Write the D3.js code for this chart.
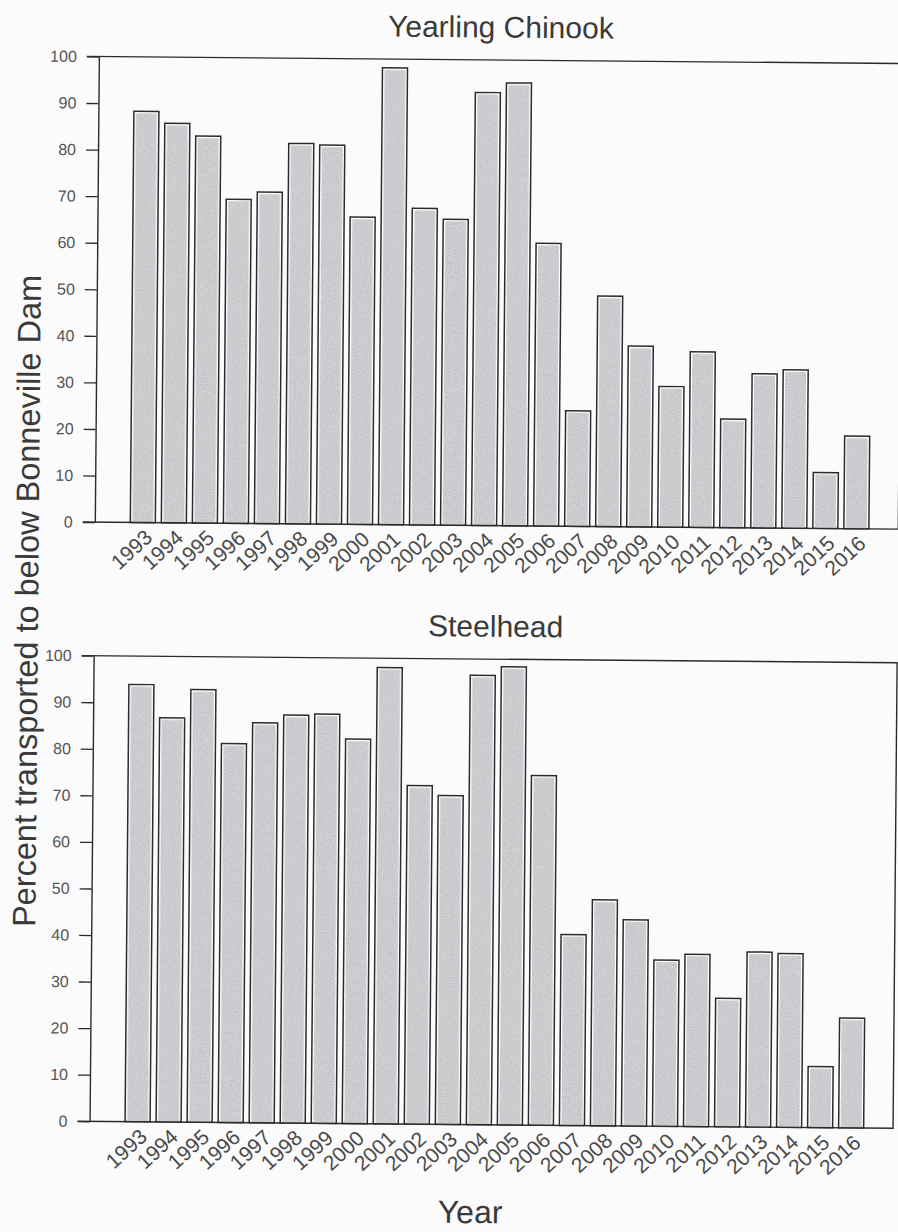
<!DOCTYPE html>
<html>
<head>
<meta charset="utf-8">
<script src="https://cdn.jsdelivr.net/npm/d3@7"></script>
<style>
  html, body { margin: 0; padding: 0; background: #fbfbfb; }
  svg { display: block; font-family: 'Liberation Sans', Arial, sans-serif; }
</style>
</head>
<body>
<div class="display"></div>
<script>
const width = 898;
const height = 1232;

const years = ['1993', '1994', '1995', '1996', '1997', '1998', '1999', '2000', '2001', '2002', '2003', '2004',
    '2005', '2006', '2007', '2008', '2009', '2010', '2011', '2012', '2013', '2014', '2015', '2016'];
const chinook = [88.3, 85.8, 83.1, 69.6, 71.2, 81.7, 81.4, 66.0, 98.1, 68.0, 65.7, 93.0,
    95.1, 60.7, 24.8, 49.5, 38.8, 30.2, 37.7, 23.3, 33.1, 34.0, 12.0, 19.9];
const steelhead = [93.9, 86.8, 92.9, 81.4, 85.9, 87.6, 87.9, 82.6, 98.0, 72.7, 70.6, 96.5,
    98.4, 75.1, 41.0, 48.5, 44.3, 35.7, 37.0, 27.6, 37.6, 37.3, 13.1, 23.6];
const yTicks = [0, 10, 20, 30, 40, 50, 60, 70, 80, 90, 100];
const panels = [
    {title: 'Yearling Chinook', values: chinook, top: 59.6},
    {title: 'Steelhead', values: steelhead, top: 658.8}
];

const left = 94;
const right = 897.5;
const plotHeight = 465.6;

const svg = d3.select('.display')
    .append('svg')
    .attr('width', width)
    .attr('height', height);

// speckled scan look for the bar fill
const filter = svg.append('defs').append('filter')
    .attr('id', 'grain')
    .attr('x', 0).attr('y', 0).attr('width', 1).attr('height', 1);
filter.append('feTurbulence')
    .attr('type', 'fractalNoise')
    .attr('baseFrequency', 0.9)
    .attr('numOctaves', 1)
    .attr('seed', 3)
    .attr('result', 'noise');
filter.append('feColorMatrix')
    .attr('in', 'noise')
    .attr('type', 'matrix')
    .attr('values', '0 0 0 0 0  0 0 0 0 0  0 0 0 0 0  0 0 0 -0.7 0.4')
    .attr('result', 'dots');
filter.append('feComposite')
    .attr('in', 'dots')
    .attr('in2', 'SourceGraphic')
    .attr('operator', 'in')
    .attr('result', 'dotsIn');
filter.append('feMerge').selectAll('feMergeNode')
    .data(['SourceGraphic', 'dotsIn'])
    .join('feMergeNode')
    .attr('in', d => d);

// the scan is turned a little clockwise
const page = svg.append('g')
    .attr('transform', 'rotate(0.5, 449, 616)');

const xScale = d3.scaleBand()
    .domain(years)
    .range([126.5, 871.1])
    .paddingInner(0.194)
    .paddingOuter(0.097);

panels.forEach(panel => {
    const y0 = panel.top + plotHeight;
    const yScale = d3.scaleLinear()
        .domain([0, 100])
        .range([y0, panel.top]);

    const g = page.append('g');

    g.append('text')
        .attr('x', (left + right) / 2)
        .attr('y', panel.top - 22.5)
        .attr('text-anchor', 'middle')
        .attr('font-size', 30)
        .attr('fill', '#3a3a3a')
        .text(panel.title);

    const bars = g.selectAll('.bar')
        .data(years.map((year, i) => ({year, value: panel.values[i]})))
        .join('g')
        .attr('class', 'bar');

    bars.append('rect')
        .attr('x', d => xScale(d.year))
        .attr('y', d => yScale(d.value))
        .attr('width', xScale.bandwidth())
        .attr('height', d => y0 - yScale(d.value))
        .attr('fill', '#ffffff')
        .attr('stroke', '#2b2b2b')
        .attr('stroke-width', 1.5);

    bars.append('rect')
        .attr('x', d => xScale(d.year) + 2)
        .attr('y', d => yScale(d.value) + 2)
        .attr('width', xScale.bandwidth() - 4)
        .attr('height', d => y0 - yScale(d.value) - 2)
        .attr('fill', '#d2d2d6')
        .attr('filter', 'url(#grain)');

    const yAxis = d3.axisLeft(yScale)
        .tickValues(yTicks)
        .tickSize(12)
        .tickSizeOuter(0)
        .tickPadding(10);

    const yAxisG = g.append('g')
        .attr('transform', `translate(${left}, 0)`)
        .call(yAxis);
    yAxisG.select('.domain').attr('stroke', '#2b2b2b').attr('stroke-width', 1.4);
    yAxisG.selectAll('.tick line').attr('stroke', '#2b2b2b').attr('stroke-width', 1.3);
    yAxisG.selectAll('.tick text')
        .attr('font-size', 16)
        .attr('font-family', "'Liberation Sans', Arial, sans-serif")
        .attr('fill', '#555555');

    g.append('path')
        .attr('d', `M${left - 12},${panel.top}H${right}V${y0}H${left - 12}`)
        .attr('fill', 'none')
        .attr('stroke', '#2b2b2b')
        .attr('stroke-width', 1.4);

    const xAxis = d3.axisBottom(xScale)
        .tickSize(0)
        .tickPadding(0);

    const xAxisG = g.append('g')
        .attr('transform', `translate(0, ${y0})`)
        .call(xAxis);
    xAxisG.select('.domain').remove();
    xAxisG.selectAll('.tick text')
        .attr('y', 0)
        .attr('dy', 0)
        .attr('text-anchor', 'end')
        .attr('transform', 'translate(11, 16.5) rotate(-43)')
        .attr('font-size', 21)
        .attr('font-family', "'Liberation Sans', Arial, sans-serif")
        .attr('fill', '#4a4a4a');
});

page.append('text')
    .attr('transform', 'translate(38, 604.6) rotate(-90)')
    .attr('text-anchor', 'middle')
    .attr('font-size', 32.5)
    .attr('fill', '#3a3a3a')
    .text('Percent transported to below Bonneville Dam');

page.append('text')
    .attr('x', 443)
    .attr('y', 1222.8)
    .attr('font-size', 32)
    .attr('fill', '#3a3a3a')
    .text('Year');
</script>
</body>
</html>
